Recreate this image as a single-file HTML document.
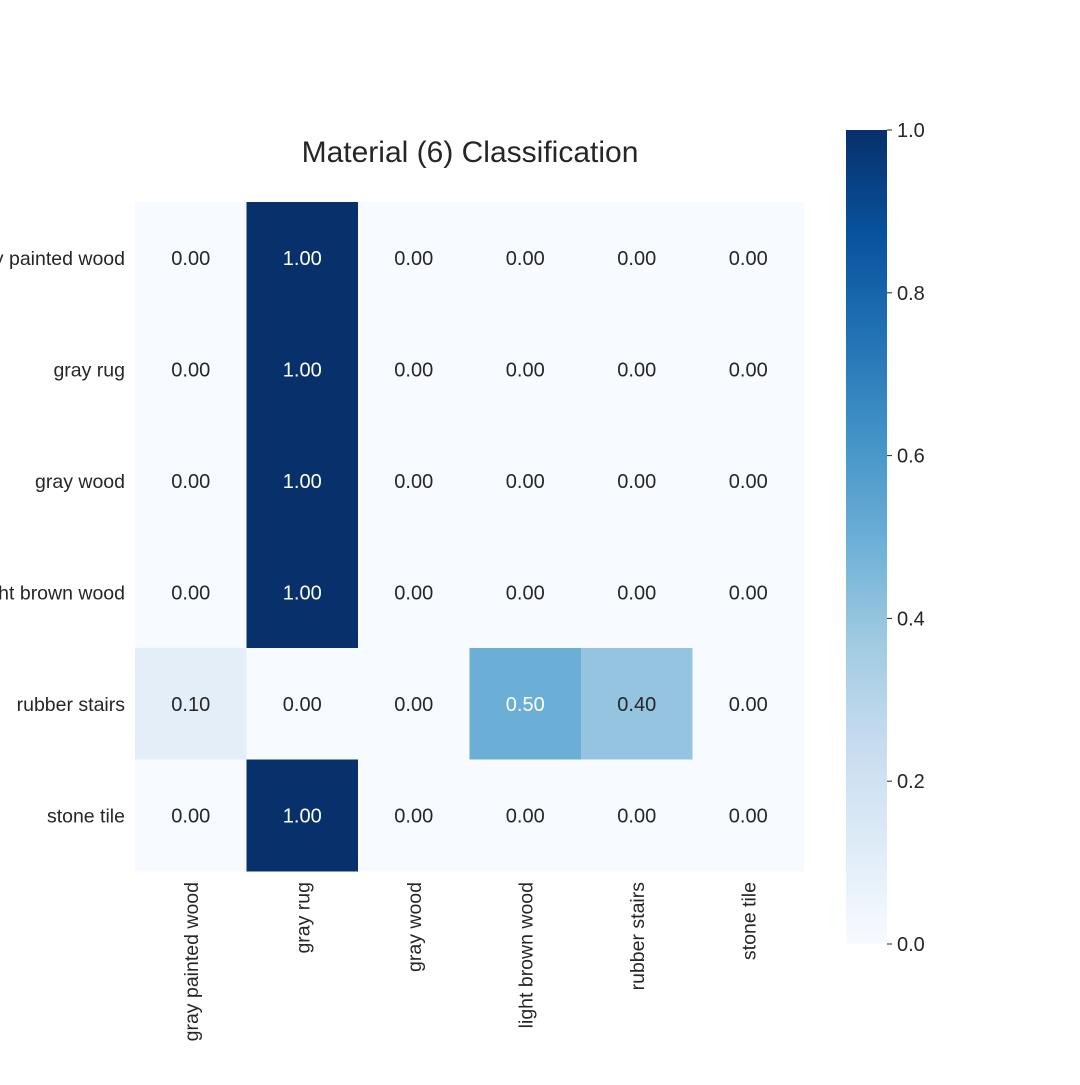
<!DOCTYPE html>
<html><head><meta charset="utf-8"><style>
body{margin:0;background:#fff;}
svg text{font-family:"Liberation Sans",Arial,sans-serif;fill:#262626;}
</style></head><body>
<svg id="chart" width="1080" height="1080" viewBox="0 0 1080 1080" xmlns="http://www.w3.org/2000/svg">
<defs>
<linearGradient id="blues" x1="0" y1="1" x2="0" y2="0">
<stop offset="0" stop-color="#f7fbff"/><stop offset="0.125" stop-color="#deebf7"/>
<stop offset="0.25" stop-color="#c6dbef"/><stop offset="0.375" stop-color="#9ecae1"/>
<stop offset="0.5" stop-color="#6baed6"/><stop offset="0.625" stop-color="#4292c6"/>
<stop offset="0.75" stop-color="#2171b5"/><stop offset="0.875" stop-color="#08519c"/>
<stop offset="1" stop-color="#08306b"/>
</linearGradient>
</defs>
<text x="470" y="162" font-size="30" text-anchor="middle">Material (6) Classification</text>
<g id="cells"></g>
<g id="ylabels"></g>
<g id="xlabels"></g>
<rect x="846" y="130" width="41" height="814" fill="url(#blues)"/>
<g id="cbticks"></g>
</svg>
<script>
const rowLabels = ["gray painted wood","gray rug","gray wood","light brown wood","rubber stairs","stone tile"];
const colLabels = ["gray painted wood","gray rug","gray wood","light brown wood","rubber stairs","stone tile"];
const matrix = [
 [0,1,0,0,0,0],
 [0,1,0,0,0,0],
 [0,1,0,0,0,0],
 [0,1,0,0,0,0],
 [0.1,0,0,0.5,0.4,0],
 [0,1,0,0,0,0]
];
const cbTicks = [0,0.2,0.4,0.6,0.8,1.0];

const NS="http://www.w3.org/2000/svg";
const X0=135,Y0=202,W=669,H=669;
const cw=W/colLabels.length, ch=H/rowLabels.length;
const stops=[[247,251,255],[222,235,247],[198,219,239],[158,202,225],[107,174,214],[66,146,198],[33,113,181],[8,81,156],[8,48,107]];
function color(v){v=Math.max(0,Math.min(1,v));const p=v*8,i=Math.min(7,Math.floor(p)),t=p-i;
 const a=stops[i],b=stops[i+1];return "rgb("+a.map((c,k)=>Math.round(c+(b[k]-c)*t)).join(",")+")";}
function xPos(j){return X0+j*cw;}
function yPos(i){return Y0+i*ch;}
function cbY(v){return 944-v*814;}
function mk(tag,attrs,parent,txt){const e=document.createElementNS(NS,tag);for(const k in attrs)e.setAttribute(k,attrs[k]);if(txt!==undefined)e.textContent=txt;parent.appendChild(e);return e;}
const cells=document.getElementById('cells');
matrix.forEach((row,i)=>row.forEach((v,j)=>{
 const r=mk('rect',{x:xPos(j),y:yPos(i),width:cw+0.5,height:ch+0.5,fill:color(v)},cells);
 
 
 const t=mk('text',{x:xPos(j)+cw/2,y:yPos(i)+ch/2+7,'font-size':20,'text-anchor':'middle'},cells,v.toFixed(2));
 if(v>0.45)t.style.fill='#ffffff';
 
 
}));
const yl=document.getElementById('ylabels');
rowLabels.forEach((l,i)=>{
 const t=mk('text',{x:X0-10,y:yPos(i)+ch/2+7,'font-size':19.5,'text-anchor':'end'},yl,l);
 
 
});
const xl=document.getElementById('xlabels');
colLabels.forEach((l,j)=>{
 const x=xPos(j)+cw/2+7;
 const t=mk('text',{x:x,y:882,'font-size':19.5,'text-anchor':'end',transform:'rotate(-90 '+x+' 882)'},xl,l);
 
 
});
const cb=document.getElementById('cbticks');
cbTicks.forEach(v=>{
 const y=cbY(v);
 const ln=mk('line',{x1:887,x2:892,y1:y,y2:y,stroke:'#262626','stroke-width':1},cb);
 
 
 const t=mk('text',{x:897,y:y+7,'font-size':20},cb,v.toFixed(1));
 
 
});
</script>
</body></html>
